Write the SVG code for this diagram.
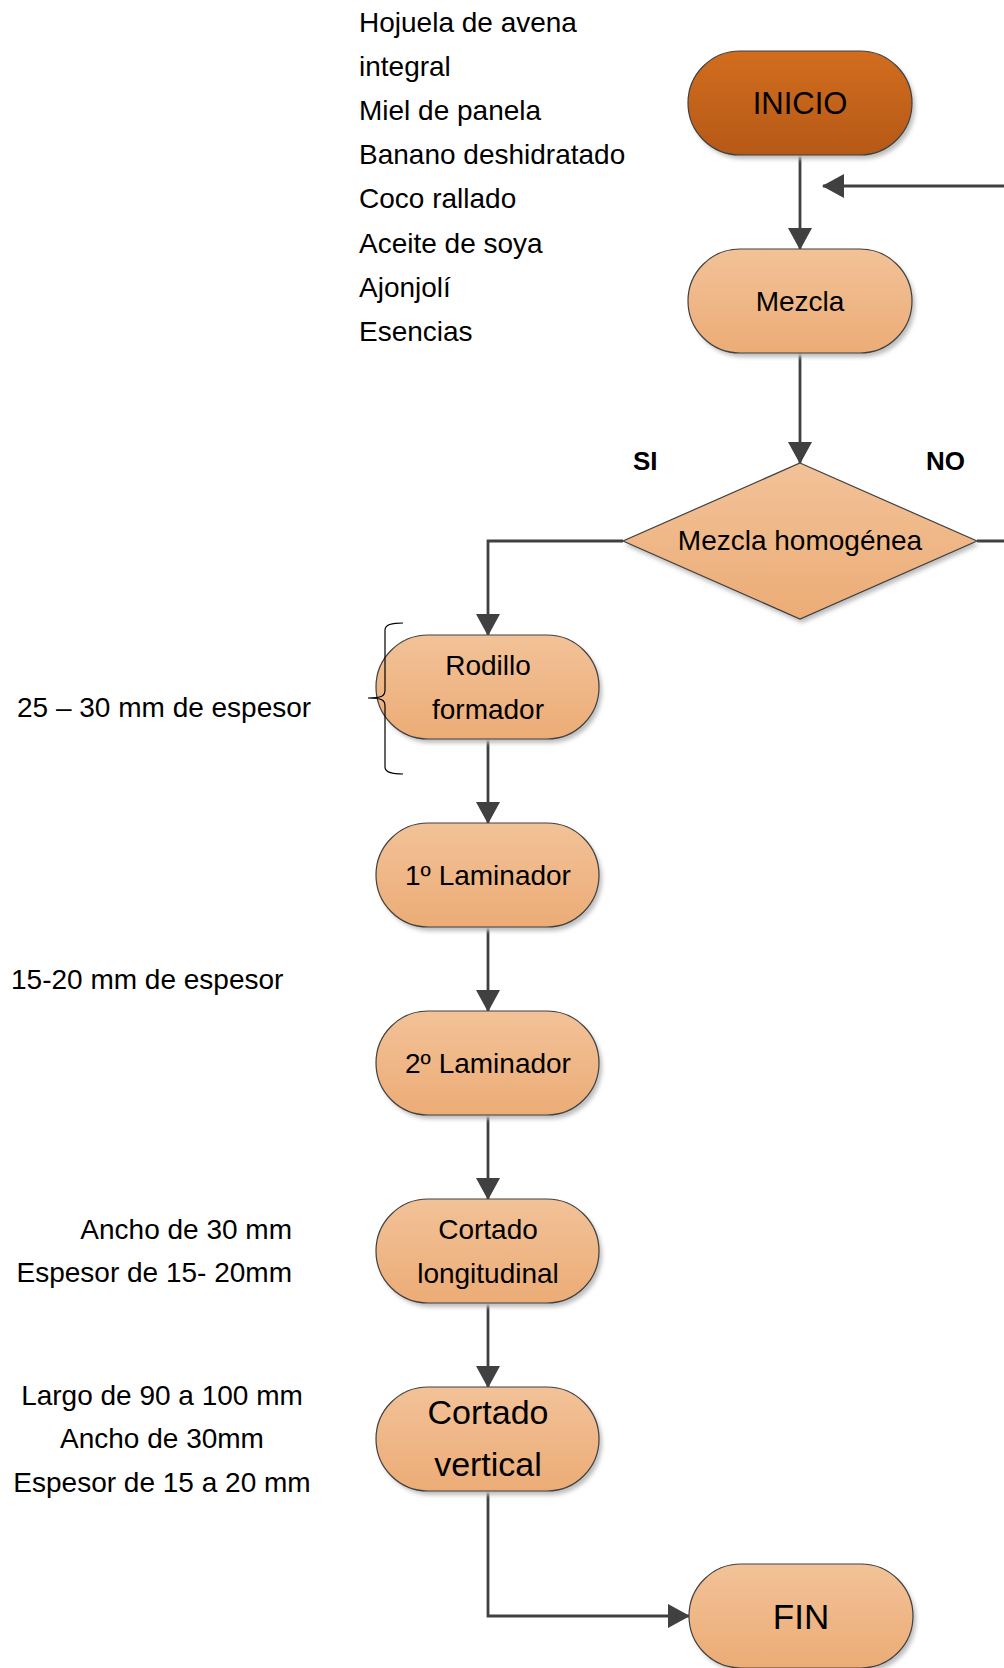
<svg xmlns="http://www.w3.org/2000/svg" width="1004" height="1668" viewBox="0 0 1004 1668">
<defs>
<linearGradient id="gLight" x1="0" y1="0" x2="0" y2="1">
<stop offset="0" stop-color="#F2C298"/>
<stop offset="1" stop-color="#ECAC76"/>
</linearGradient>
<linearGradient id="gDark" x1="0" y1="0" x2="0" y2="1">
<stop offset="0" stop-color="#D16D1E"/>
<stop offset="1" stop-color="#B65917"/>
</linearGradient>
<filter id="shadow" x="-10%" y="-10%" width="130%" height="140%">
<feGaussianBlur stdDeviation="2"/>
</filter>
<marker id="arrow" markerWidth="22" markerHeight="24" refX="21" refY="12" orient="auto" markerUnits="userSpaceOnUse">
<path d="M0,0 L22,12 L0,24 Z" fill="#404040"/>
</marker>
<style>
.node{stroke:#404040;stroke-width:1.2}
.light{fill:url(#gLight)}
.dark{fill:url(#gDark)}
.sh{fill:#bdbdbd;filter:url(#shadow)}
.t{font-family:"Liberation Sans",Arial,sans-serif;font-size:28px;fill:#000}
.c{text-anchor:middle}
.r{text-anchor:end}
.b{font-weight:bold;font-size:26px}
.conn{fill:none;stroke:#404040;stroke-width:2.8}
</style>
</defs>
<rect width="1004" height="1668" fill="#fff"/>

<g id="ingredientes">
<text class="t" x="359" y="32">Hojuela de avena</text>
<text class="t" x="359" y="76">integral</text>
<text class="t" x="359" y="120">Miel de panela</text>
<text class="t" x="359" y="164">Banano deshidratado</text>
<text class="t" x="359" y="208">Coco rallado</text>
<text class="t" x="359" y="253">Aceite de soya</text>
<text class="t" x="359" y="297">Ajonjolí</text>
<text class="t" x="359" y="341">Esencias</text>
</g>

<g id="connectors">
<path class="conn" d="M800,155 V249" marker-end="url(#arrow)"/>
<path class="conn" d="M800,353 V463" marker-end="url(#arrow)"/>
<path class="conn" d="M977,541 H1030 V186 H823" marker-end="url(#arrow)"/>
<path class="conn" d="M623,541 H488 V635" marker-end="url(#arrow)"/>
<path class="conn" d="M488,739 V823" marker-end="url(#arrow)"/>
<path class="conn" d="M488,927 V1011" marker-end="url(#arrow)"/>
<path class="conn" d="M488,1115 V1199" marker-end="url(#arrow)"/>
<path class="conn" d="M488,1303 V1387" marker-end="url(#arrow)"/>
<path class="conn" d="M488,1491 V1616 H689" marker-end="url(#arrow)"/>
</g>

<g id="labels-decision">
<text class="t b" x="633" y="470">SI</text>
<text class="t b" x="926" y="470">NO</text>
</g>

<g id="inicio">
<rect class="sh" x="691" y="55" width="224" height="104" rx="52"/>
<rect class="node dark" x="688" y="51" width="224" height="104" rx="52"/>
<text class="t c" x="800" y="114" style="font-size:31px">INICIO</text>
</g>

<g id="mezcla">
<rect class="sh" x="691" y="253" width="224" height="104" rx="52"/>
<rect class="node light" x="688" y="249" width="224" height="104" rx="52"/>
<text class="t c" x="800" y="311">Mezcla</text>
</g>

<g id="decision">
<polygon class="sh" points="802,467 979,545 802,623 625,545"/>
<polygon class="node light" points="800,463 977,541 800,619 623,541"/>
<text class="t c" x="800" y="550">Mezcla homogénea</text>
</g>

<g id="rodillo">
<rect class="sh" x="379" y="639" width="223" height="104" rx="52"/>
<rect class="node light" x="376" y="635" width="223" height="104" rx="52"/>
<text class="t c" x="488" y="675">Rodillo</text>
<text class="t c" x="488" y="719">formador</text>
</g>

<g id="laminador1">
<rect class="sh" x="379" y="827" width="223" height="104" rx="52"/>
<rect class="node light" x="376" y="823" width="223" height="104" rx="52"/>
<text class="t c" x="488" y="885">1º Laminador</text>
</g>

<g id="laminador2">
<rect class="sh" x="379" y="1015" width="223" height="104" rx="52"/>
<rect class="node light" x="376" y="1011" width="223" height="104" rx="52"/>
<text class="t c" x="488" y="1073">2º Laminador</text>
</g>

<g id="cortado-longitudinal">
<rect class="sh" x="379" y="1203" width="223" height="104" rx="52"/>
<rect class="node light" x="376" y="1199" width="223" height="104" rx="52"/>
<text class="t c" x="488" y="1239">Cortado</text>
<text class="t c" x="488" y="1283">longitudinal</text>
</g>

<g id="cortado-vertical">
<rect class="sh" x="379" y="1391" width="223" height="104" rx="52"/>
<rect class="node light" x="376" y="1387" width="223" height="104" rx="52"/>
<text class="t c" x="488" y="1424" style="font-size:34px">Cortado</text>
<text class="t c" x="488" y="1476" style="font-size:34px">vertical</text>
</g>

<g id="fin">
<rect class="sh" x="692" y="1568" width="224" height="104" rx="52"/>
<rect class="node light" x="689" y="1564" width="224" height="104" rx="52"/>
<text class="t c" x="801" y="1629" style="font-size:35px">FIN</text>
</g>

<g id="anotaciones">
<path d="M403,623 C393,623 385,624 385,630 L385,690 C385,696 382,698 368,698 C382,698 385,700 385,706 L385,767 C385,773 393,774 403,774" fill="none" stroke="#000" stroke-width="1.2"/>
<text class="t" x="17" y="717">25 – 30 mm de espesor</text>
<text class="t" x="11" y="989">15-20 mm de espesor</text>
<text class="t r" x="292" y="1239">Ancho de 30 mm</text>
<text class="t r" x="292" y="1282">Espesor de 15- 20mm</text>
<text class="t c" x="162" y="1405">Largo de 90 a 100 mm</text>
<text class="t c" x="162" y="1448">Ancho de 30mm</text>
<text class="t c" x="162" y="1492">Espesor de 15 a 20 mm</text>
</g>
</svg>
